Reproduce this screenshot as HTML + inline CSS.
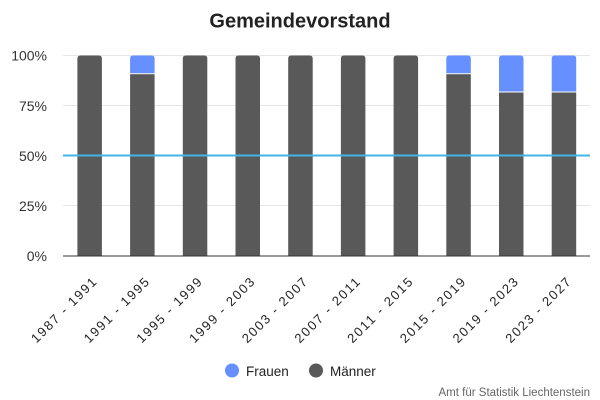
<!DOCTYPE html>
<html><head><meta charset="utf-8"><style>
html,body{margin:0;padding:0;background:#fff;}
svg{display:block;font-family:"Liberation Sans",sans-serif;}
</style></head><body>
<svg width="600" height="400" viewBox="0 0 600 400" xmlns="http://www.w3.org/2000/svg">
<rect width="600" height="400" fill="#fff"/>
<text x="300" y="27.3" text-anchor="middle" font-size="20" font-weight="bold" fill="#222">Gemeindevorstand</text>
<g stroke="#e6e6e6" stroke-width="1">
<line x1="63" x2="590" y1="55.5" y2="55.5"/>
<line x1="63" x2="590" y1="105.5" y2="105.5"/>
<line x1="63" x2="590" y1="155.5" y2="155.5"/>
<line x1="63" x2="590" y1="205.5" y2="205.5"/>
</g>
<g font-size="14" fill="#333" text-anchor="end">
<text x="47" y="60.7">100%</text>
<text x="47" y="110.8">75%</text>
<text x="47" y="160.9">50%</text>
<text x="47" y="211">25%</text>
<text x="47" y="261">0%</text>
</g>
<g fill="#595959">
<path d="M77.4,256 V58.5 Q77.4,55.5 80.4,55.5 H98.9 Q101.9,55.5 101.9,58.5 V256 Z"/>
<rect x="130.1" y="74.2" width="24.5" height="181.8"/>
<path d="M182.8,256 V58.5 Q182.8,55.5 185.8,55.5 H204.3 Q207.3,55.5 207.3,58.5 V256 Z"/>
<path d="M235.5,256 V58.5 Q235.5,55.5 238.5,55.5 H257 Q260,55.5 260,58.5 V256 Z"/>
<path d="M288.2,256 V58.5 Q288.2,55.5 291.2,55.5 H309.7 Q312.7,55.5 312.7,58.5 V256 Z"/>
<path d="M340.9,256 V58.5 Q340.9,55.5 343.9,55.5 H362.4 Q365.4,55.5 365.4,58.5 V256 Z"/>
<path d="M393.6,256 V58.5 Q393.6,55.5 396.6,55.5 H415.1 Q418.1,55.5 418.1,58.5 V256 Z"/>
<rect x="446.3" y="74.2" width="24.5" height="181.8"/>
<rect x="499" y="92.5" width="24.5" height="163.5"/>
<rect x="551.7" y="92.5" width="24.5" height="163.5"/>
</g>
<g fill="#668fff">
<path d="M130.1,73.2 V58.5 Q130.1,55.5 133.1,55.5 H151.6 Q154.6,55.5 154.6,58.5 V73.2 Z"/>
<path d="M446.3,73.2 V58.5 Q446.3,55.5 449.3,55.5 H467.8 Q470.8,55.5 470.8,58.5 V73.2 Z"/>
<path d="M499,91.5 V58.5 Q499,55.5 502,55.5 H520.5 Q523.5,55.5 523.5,58.5 V91.5 Z"/>
<path d="M551.7,91.5 V58.5 Q551.7,55.5 554.7,55.5 H573.2 Q576.2,55.5 576.2,58.5 V91.5 Z"/>
</g>
<line x1="63" x2="590" y1="256" y2="256" stroke="#333" stroke-width="1"/>
<line x1="63" x2="590" y1="155.5" y2="155.5" stroke="#41b6e6" stroke-width="2"/>
<g font-size="13" fill="#222" text-anchor="end">
<text transform="translate(97.2,283) rotate(-45)" textLength="86" lengthAdjust="spacing">1987 - 1991</text>
<text transform="translate(149.9,283) rotate(-45)" textLength="86" lengthAdjust="spacing">1991 - 1995</text>
<text transform="translate(202.6,283) rotate(-45)" textLength="86" lengthAdjust="spacing">1995 - 1999</text>
<text transform="translate(255.3,283) rotate(-45)" textLength="86" lengthAdjust="spacing">1999 - 2003</text>
<text transform="translate(308,283) rotate(-45)" textLength="86" lengthAdjust="spacing">2003 - 2007</text>
<text transform="translate(360.7,283) rotate(-45)" textLength="86" lengthAdjust="spacing">2007 - 2011</text>
<text transform="translate(413.4,283) rotate(-45)" textLength="86" lengthAdjust="spacing">2011 - 2015</text>
<text transform="translate(466.1,283) rotate(-45)" textLength="86" lengthAdjust="spacing">2015 - 2019</text>
<text transform="translate(518.8,283) rotate(-45)" textLength="86" lengthAdjust="spacing">2019 - 2023</text>
<text transform="translate(571.5,283) rotate(-45)" textLength="86" lengthAdjust="spacing">2023 - 2027</text>
</g>
<circle cx="232" cy="370.5" r="7" fill="#668fff"/>
<text x="246" y="376" font-size="13.5" fill="#222">Frauen</text>
<circle cx="316" cy="370.5" r="7" fill="#595959"/>
<text x="330" y="376" font-size="13.5" fill="#222">Männer</text>
<text x="590" y="396" font-size="11.5" fill="#666" text-anchor="end">Amt für Statistik Liechtenstein</text>
</svg>
</body></html>
